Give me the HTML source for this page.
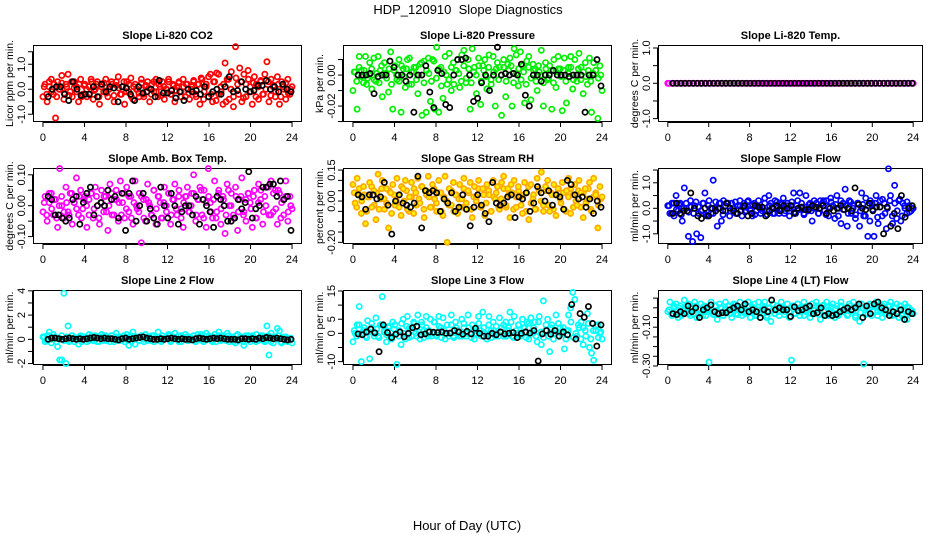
<!DOCTYPE html>
<html><head><meta charset="utf-8">
<style>
html,body{margin:0;padding:0;background:#fff;}
svg{display:block;font-family:"Liberation Sans",Arial,sans-serif;}
</style></head>
<body>
<svg id="chart" width="936" height="540" viewBox="0 0 936 540" xmlns="http://www.w3.org/2000/svg">
<text x="468" y="14" font-size="13" text-anchor="middle">HDP_120910&#160;&#160;Slope Diagnostics</text>
<text x="467" y="530" font-size="13" text-anchor="middle">Hour of Day (UTC)</text>
</svg>
<script>
const hourTicks=[0,4,8,12,16,20,24];

const co2Color=[-0.3,0.2,-0.5,0.1,0.4,-0.2,-1.15,0.3,0.0,0.55,
-0.4,0.2,0.6,-0.1,-0.3,0.3,0.1,-0.5,0.4,-0.2,
0.2,-0.3,0.1,0.4,-0.4,0.0,0.3,-0.6,0.2,-0.1,
0.4,-0.3,0.1,0.2,-0.5,0.3,0.5,-0.2,0.1,-0.6,
0.3,-0.1,0.45,-0.4,0.2,0.0,-0.3,0.4,-0.2,0.1,
0.3,-0.5,0.2,-0.1,0.4,-0.3,0.1,0.3,-0.4,0.0,
0.4,-0.2,0.2,-0.5,0.1,0.3,-0.1,0.4,-0.3,0.2,
-0.4,0.1,0.3,-0.2,0.2,-0.6,0.4,-0.1,0.2,-0.3,
0.6,-0.5,0.3,0.65,-0.2,0.1,-0.6,1.05,0.4,-0.4,
0.7,-0.7,1.7,0.2,0.85,-0.5,0.6,-0.3,0.75,0.1,
-0.6,0.5,0.2,-0.4,0.3,-0.2,0.6,1.1,-0.5,0.4,
0.1,-0.3,0.5,-0.6,0.3,0.0,-0.4,0.4,-0.2,0.1];
const co2Core=[0.1,-0.2,0.3,-0.1,0.2,-0.3,0.0,0.25,-0.15,0.1,-0.25,0.3,0.05,-0.1,0.2,-0.3,0.15,0.0,-0.2,0.3,
-0.05,0.2,-0.3,0.1,0.25,-0.15,0.0,0.3,-0.25,0.15,0.05,-0.2,0.3,-0.1,0.2,-0.3,0.1,0.0,-0.15,0.25,
-0.3,0.15,0.05,-0.2,0.3,-0.1,0.2,-0.25,0.1,0.0,0.3,-0.2,0.15,-0.05,0.25,-0.3,0.1,0.2,-0.15,0.0,
0.35,-0.3,0.2,0.45,-0.4,0.1,0.5,-0.2,0.3,-0.45,0.6,-0.1,0.2,-0.5,0.4,0.0,-0.3,0.45,-0.2,0.3,
-0.35,0.2,0.4,-0.1,0.25,-0.3,0.1,0.35,-0.2,0.0,0.3,-0.25,0.15,-0.1,0.2,-0.3,0.1,0.25,-0.15,0.0];
const co2Black=[-0.3,0.0,0.1,0.1,-0.2,-0.45,0.3,0.0,-0.25,-0.2,-0.2,0.1,-0.3,0.2,-0.1,0.1,0.05,-0.5,0.1,0.05,-0.2,-0.45,0.1,-0.15,-0.1,0.0,-0.3,0.35,-0.15,-0.15,-0.05,-0.35,-0.1,-0.45,0.0,-0.1,-0.05,-0.2,0.1,-0.3,-0.1,0.0,-0.2,0.1,0.5,-0.1,-0.05,0.3,0.0,-0.1,-0.05,0.15,0.15,0.35,0.0,0.1,-0.1,0.2,0.0,-0.1];

const presColor=[-0.010,0.002,-0.022,0.012,0.003,-0.005,0.012,-0.002,0.008,-0.009,
0.011,-0.004,0.012,0.003,-0.014,0.008,0.001,-0.011,0.015,-0.022,
0.006,-0.003,0.010,-0.024,0.004,-0.008,0.010,0.011,-0.006,0.002,
0.005,-0.012,0.007,-0.026,0.009,-0.024,0.011,-0.017,0.010,-0.022,
0.018,-0.024,0.005,-0.015,0.012,-0.006,0.014,-0.010,0.008,0.003,
0.010,-0.008,0.013,0.016,-0.005,0.010,-0.022,0.017,0.005,-0.012,
0.011,-0.019,0.006,0.010,-0.009,0.013,-0.003,0.012,-0.020,0.008,
0.005,-0.026,0.010,-0.014,0.007,0.011,-0.020,0.017,0.013,-0.007,
0.015,0.006,-0.018,0.009,0.012,-0.016,0.007,0.004,-0.010,0.002,
0.016,-0.020,0.008,-0.003,0.006,-0.022,0.010,-0.008,0.012,0.004,
-0.023,0.011,-0.018,0.005,0.012,-0.009,0.010,-0.004,0.014,0.005,
-0.012,0.008,-0.006,0.011,-0.024,0.008,0.003,-0.028,0.006,-0.010];
const presCore=[0.002,-0.004,0.005,-0.001,0.003,-0.006,0.0,0.004,-0.003,0.001,-0.005,0.006,0.001,-0.002,0.004,-0.006,0.003,0.0,-0.004,0.006,
-0.001,0.004,-0.006,0.002,0.005,-0.003,0.0,0.008,-0.005,0.003,0.001,-0.004,0.009,-0.002,0.004,-0.007,0.002,0.0,-0.003,0.005,
-0.006,0.003,0.001,-0.004,0.006,-0.002,0.004,-0.005,0.002,0.0,0.006,-0.004,0.003,-0.001,0.005,-0.006,0.002,0.004,-0.003,0.0,
0.005,-0.004,0.003,0.006,-0.005,0.001,0.004,-0.003,0.002,-0.006,0.005,-0.002,0.003,-0.004,0.006,0.0,-0.005,0.004,-0.002,0.003,
-0.005,0.002,0.004,-0.001,0.003,-0.004,0.001,0.005,-0.003,0.0,0.004,-0.003,0.002,-0.001,0.003,-0.004,0.001,0.003,-0.002,0.0];
const presBlack=[0.0,0.0,0.0,0.001,-0.012,-0.001,0.0,0.0,0.009,0.005,0.0,0.0,-0.004,0.0,-0.024,0.0,0.0,0.006,-0.011,-0.021,0.003,0.001,-0.019,-0.021,0.0,0.010,0.010,0.011,0.0,-0.017,-0.015,-0.005,0.0,-0.010,0.0,0.018,0.0,0.001,0.0,0.001,0.0,0.007,-0.013,-0.020,0.0,0.0,-0.004,0.0,0.0,0.003,0.0,0.0,0.0,-0.001,0.0,0.0,0.0,-0.024,0.0,0.0,0.010,-0.007];

const tempColor=[0,0,0,0,0,0,0,0,0,0,0,0,0,0,0,0,0,0,0,0,0,0,0,0,0,0,0,0,0,0,0,0,0,0,0,0,0,0,0,0,0,0,0,0,0,0,0,0,0,0,0,0,0,0,0,0,0,0,0,0];
const tempCore=[0,0,0,0,0,0,0,0,0,0,0,0,0,0,0,0,0,0,0,0,0,0,0,0,0,0,0,0,0,0,0,0,0,0,0,0,0,0,0,0,0,0,0,0,0,0,0,0,0,0,0,0,0,0,0,0,0,0,0,0];
const tempBlack=[0,0,0,0,0,0,0,0,0,0,0,0,0,0,0,0,0,0,0,0,0,0,0,0,0,0,0,0,0,0,0,0,0,0,0,0,0,0,0,0,0,0,0,0,0,0,0,0,0,0,0,0,0,0,0,0,0,0,0,0];

const boxColor=[-0.02,0.03,-0.05,0.01,0.04,-0.03,0.02,-0.07,0.12,0.0,
-0.04,0.06,-0.02,0.04,-0.06,0.01,0.09,-0.03,0.05,-0.01,
0.03,-0.07,0.02,0.04,-0.04,0.06,0.0,-0.06,0.05,-0.02,
0.03,-0.08,0.07,-0.03,0.02,0.05,-0.05,0.08,0.01,-0.04,
0.06,-0.02,0.03,-0.06,0.08,-0.01,0.04,-0.12,0.02,-0.05,
0.07,0.0,-0.03,0.05,-0.06,0.03,0.01,-0.04,0.06,-0.02,
0.04,-0.06,0.02,0.07,-0.03,0.05,-0.01,-0.07,0.03,0.06,
-0.02,0.04,0.10,-0.05,0.02,0.06,-0.03,0.05,-0.07,0.12,
0.01,-0.04,0.08,-0.02,0.05,-0.06,0.03,-0.09,0.07,0.0,
0.04,-0.03,0.06,-0.08,0.02,0.09,-0.02,-0.05,0.04,0.01,
-0.07,0.05,-0.04,0.07,0.02,-0.06,0.03,0.06,-0.03,0.08,
-0.02,0.05,-0.06,0.04,0.01,-0.03,0.08,-0.05,0.03,-0.01];
const boxCore=[0.01,-0.03,0.04,-0.01,0.02,-0.04,0.0,0.03,-0.02,0.01,-0.03,0.04,0.01,-0.01,0.03,-0.04,0.02,0.0,-0.03,0.04,
-0.01,0.03,-0.04,0.01,0.03,-0.02,0.0,0.04,-0.03,0.02,0.01,-0.03,0.04,-0.01,0.03,-0.04,0.01,0.0,-0.02,0.03,
-0.04,0.02,0.01,-0.03,0.05,-0.01,0.03,-0.04,0.01,0.0,0.04,-0.03,0.02,-0.01,0.03,-0.04,0.01,0.03,-0.02,0.0,
0.04,-0.03,0.02,0.05,-0.04,0.01,0.03,-0.02,0.02,-0.04,0.04,-0.01,0.02,-0.03,0.05,0.0,-0.04,0.03,-0.02,0.03,
-0.03,0.02,0.04,-0.01,0.03,-0.04,0.01,0.05,-0.02,0.0,0.06,-0.03,0.04,-0.01,0.05,-0.04,0.02,0.03,-0.02,0.0];
const boxBlack=[0.03,0.02,-0.03,-0.03,-0.04,-0.05,-0.04,0.02,0.03,-0.06,0.01,0.04,0.06,-0.03,0.0,0.01,0.0,0.05,0.02,0.03,-0.04,0.04,-0.08,0.04,0.08,-0.05,0.0,0.04,-0.05,-0.01,-0.04,-0.06,0.06,0.0,-0.04,0.04,0.0,-0.06,-0.02,0.0,0.0,-0.03,0.03,-0.06,0.02,0.0,-0.02,-0.07,0.03,0.02,0.0,-0.05,-0.05,-0.04,0.02,-0.01,0.01,0.11,-0.04,-0.01,0.0,0.06,0.06,0.07,0.07,0.03,0.08,0.02,0.03,-0.08];

const rhColor=[0.08,-0.01,0.11,0.03,-0.06,0.07,-0.11,0.02,0.09,-0.03,
0.05,-0.09,0.13,0.01,0.10,-0.04,0.06,-0.13,0.04,0.08,
-0.02,0.11,0.03,-0.07,0.06,0.10,-0.04,0.02,0.09,-0.06,
0.04,0.11,-0.01,0.07,-0.08,0.05,0.12,-0.03,0.08,0.01,
-0.05,0.10,0.04,-0.07,0.12,-0.20,0.06,-0.02,0.09,0.03,
-0.06,0.08,0.01,0.11,-0.04,0.05,0.09,-0.08,0.07,0.02,
0.10,-0.03,0.06,-0.07,0.08,0.03,-0.05,0.10,0.01,0.07,
-0.04,0.09,0.12,-0.02,0.06,-0.08,0.04,0.10,-0.03,0.07,
0.02,-0.06,0.09,0.04,-0.09,0.08,0.01,-0.04,0.11,0.05,
0.14,-0.02,0.07,0.10,-0.05,0.03,0.08,-0.07,0.06,0.01,
0.09,-0.04,0.05,0.11,-0.06,0.03,0.08,-0.02,0.10,0.04,
-0.08,0.06,0.01,0.09,-0.05,0.11,0.03,-0.13,0.07,0.02];
const rhCore=[0.04,-0.03,0.06,0.0,0.03,-0.05,0.02,0.07,-0.02,0.04,-0.04,0.06,0.01,-0.01,0.05,-0.06,0.03,0.0,-0.03,0.07,
0.0,0.05,-0.05,0.02,0.06,-0.02,0.01,0.07,-0.04,0.03,0.02,-0.03,0.06,-0.01,0.04,-0.05,0.02,0.0,-0.02,0.05,
-0.05,0.03,0.01,-0.03,0.06,-0.01,0.04,-0.04,0.02,0.0,0.06,-0.03,0.03,-0.01,0.05,-0.05,0.02,0.04,-0.03,0.01,
0.06,-0.03,0.03,0.08,-0.04,0.02,0.05,-0.02,0.03,-0.05,0.07,-0.01,0.03,-0.04,0.06,0.0,-0.05,0.05,-0.02,0.04,
-0.04,0.03,0.06,-0.01,0.04,-0.05,0.02,0.06,-0.03,0.0,0.05,-0.03,0.04,-0.01,0.06,-0.04,0.02,0.04,-0.02,0.01];
const rhBlack=[0.03,0.02,-0.04,0.03,0.03,0.01,0.02,0.09,-0.02,-0.16,0.00,0.03,-0.01,-0.02,-0.03,-0.01,0.12,-0.13,0.05,0.04,0.05,0.04,-0.05,0.01,-0.01,0.04,-0.05,-0.03,0.03,-0.04,-0.12,-0.03,0.03,-0.02,-0.06,-0.10,0.09,-0.01,-0.02,-0.01,0.02,0.03,-0.08,0.02,0.01,0.04,-0.05,-0.01,0.07,0.04,0.00,0.05,-0.02,0.03,0.02,-0.04,0.10,0.08,0.03,0.01,0.02,-0.03,0.01,-0.06,0.00,-0.03];

const sampleColor=[0.1,-0.2,0.2,-0.3,0.5,-0.1,0.2,-0.5,0.8,0.0,
-1.1,0.3,-1.3,0.1,-1.0,-0.2,-1.15,0.2,0.6,-0.3,
0.3,-0.2,1.1,0.0,-0.7,0.2,-0.5,0.3,-0.1,0.2,
-0.3,0.2,0.0,-0.2,0.1,0.3,-0.3,0.2,-0.1,0.3,
0.1,-0.3,0.2,-0.1,0.3,-0.2,0.0,0.4,-0.1,0.5,
0.2,-0.2,0.3,0.0,-0.2,0.2,0.4,-0.1,0.2,-0.3,
0.1,0.6,-0.2,0.3,0.6,0.0,-0.2,0.5,-0.1,0.2,
-0.5,0.3,0.0,-0.2,0.3,0.2,-0.1,0.3,-0.3,0.4,
0.1,-0.4,0.5,0.0,-0.6,0.2,0.75,-0.7,0.3,-0.2,
0.1,-0.4,0.2,-0.7,0.6,-0.3,0.4,-1.1,-0.5,0.2,
-1.1,0.5,-0.6,0.3,-0.3,0.2,-0.8,1.55,0.5,-0.6,
0.9,-0.4,0.3,-0.5,0.2,0.0,-0.2,0.1,-0.1,0.0];
const sampleCore=[0.1,-0.2,0.2,-0.05,0.15,-0.25,0.0,0.2,-0.15,0.05,-0.2,0.25,0.05,-0.1,0.2,-0.25,0.1,0.0,-0.2,0.25,
0.0,0.2,-0.25,0.1,0.2,-0.1,0.0,0.25,-0.2,0.1,0.05,-0.15,0.25,-0.05,0.15,-0.25,0.1,0.0,-0.1,0.2,
-0.25,0.1,0.05,-0.2,0.25,-0.05,0.15,-0.2,0.1,0.0,0.25,-0.15,0.1,-0.05,0.2,-0.25,0.05,0.15,-0.1,0.0,
0.2,-0.2,0.15,0.3,-0.25,0.05,0.25,-0.1,0.15,-0.3,0.3,-0.05,0.1,-0.2,0.25,0.0,-0.25,0.2,-0.1,0.15,
-0.3,0.1,0.3,-0.05,0.2,-0.35,0.05,0.35,-0.2,0.0,0.3,-0.3,0.2,-0.1,0.35,-0.3,0.1,0.25,-0.15,0.0];
const sampleBlack=[-0.2,0.2,-0.2,-0.1,-0.1,0.6,0.0,-0.3,-0.4,0.0,-0.3,0.0,-0.1,0.0,-0.1,0.2,0.0,-0.1,-0.2,-0.1,0.1,-0.3,-0.2,0.1,0.05,0.05,-0.3,-0.1,0.0,0.1,-0.1,0.1,0.0,0.1,-0.2,0.0,0.05,-0.05,-0.05,0.1,0.05,0.0,0.1,-0.2,0.0,-0.1,0.0,0.1,-0.05,0.0,-0.1,0.8,0.15,0.0,-0.05,0.2,-0.1,0.05,0.05,-1.0,0.05,-0.7,-0.2,-0.8,0.5,-0.35,0.0,0.1];

const line2Color=[0.2,-0.2,0.3,0.6,-0.3,0.4,0.1,-0.6,-1.7,-1.7,
3.8,-2.0,1.1,-0.1,0.3,-0.2,0.1,-0.4,0.3,0.0,
0.2,-0.2,0.4,0.1,-0.1,0.3,-0.2,0.2,0.4,-0.1,
0.3,0.0,-0.2,0.3,0.1,0.5,-0.1,0.2,0.0,-0.2,
0.4,-0.5,0.3,0.6,-0.4,0.2,-0.1,0.3,0.0,0.4,
-0.1,0.2,0.3,-0.2,0.1,0.6,-0.1,0.3,0.0,0.2,
0.4,-0.2,0.1,0.5,0.0,-0.2,0.3,0.1,0.4,-0.1,
0.2,0.0,0.3,-0.2,0.4,0.1,-0.1,0.3,0.5,0.0,
0.2,-0.2,0.4,0.1,0.6,-0.1,0.3,0.0,0.5,-0.2,
0.2,0.1,-0.3,0.4,0.0,0.2,-0.5,0.3,0.1,-0.2,
0.3,0.0,0.4,-0.1,0.2,0.3,-0.2,1.1,-1.3,0.5,
-0.3,0.2,0.9,0.7,-0.3,0.2,0.1,-0.2,0.0,-0.3];
const line2Core=[0.2,-0.1,0.3,0.0,0.2,-0.2,0.1,0.3,-0.1,0.2,-0.2,0.3,0.1,0.0,0.2,-0.2,0.2,0.1,-0.1,0.3,
0.0,0.2,-0.2,0.1,0.3,-0.1,0.1,0.3,-0.2,0.2,0.1,-0.1,0.3,0.0,0.2,-0.2,0.1,0.1,-0.1,0.3,
-0.2,0.2,0.1,-0.1,0.3,0.0,0.2,-0.2,0.1,0.1,0.3,-0.1,0.2,0.0,0.3,-0.2,0.1,0.2,-0.1,0.1,
0.3,-0.1,0.2,0.4,-0.2,0.1,0.3,-0.1,0.2,-0.2,0.3,0.0,0.2,-0.1,0.3,0.1,-0.2,0.3,-0.1,0.2,
-0.2,0.1,0.3,0.0,0.2,-0.2,0.1,0.3,-0.1,0.1,0.3,-0.2,0.2,0.0,0.3,-0.2,0.1,0.2,-0.1,0.1];
const line2Black=[0.0,0.1,0.1,0.05,0.0,0.05,0.1,0.05,0.0,0.05,0.0,0.05,0.1,0.15,0.1,0.05,0.1,0.05,0.05,0.0,-0.05,0.05,0.1,0.0,0.05,0.1,0.15,0.2,0.1,0.05,0.0,0.0,0.05,0.0,0.05,0.1,0.05,0.0,0.05,0.0,0.0,-0.05,0.05,0.1,0.05,0.0,0.05,0.1,0.05,0.1,0.05,0.0,0.0,0.0,-0.05,0.05,0.05,0.0,0.05,0.0,0.1,0.05,0.15,0.1,0.05,0.1,0.05,0.0,-0.05,0.0];

const line3Color=[-3,0,3,9.5,-10,1,-1,4.5,-9,2,
0,5.5,-1,3,13,1,-3,2,-1,4,
3,-11,1,-4,5,-2,6,2,-1,4,
0,6.5,-2,3,1,6,-1,5,0,4,
-1,6,2,5.5,-2,3,0,6.5,-1,4,
1,-1,5,2,-1,6.5,0,3,-2,1,
6,1,7.5,0,-2,6,1,4,-1,0,
5.5,2,-1,4,1,7.5,-1,6,0,3,
-1,5,2,4,-2,5.5,0,4,-3,6,
-4,11.5,1,5,-6.5,3,0,6.5,-1,2,
0,-5.5,1,6.5,9,14.5,12,-1,2,4,
-4,1,7,-5,-7,-9.5,1,3,0,-2];
const line3Core=[1,-1,3,0,2,-1.5,0.5,3.5,-1,1.5,-1.5,3,0.5,-0.5,2.5,-2,1.5,0,-1,3.5,
0,2.5,-1.5,1,3.5,-1,0.5,4,-1.5,2,1,-1,4,-0.5,2.5,-1.5,1,0,-1,3,
-1.5,2,0.5,-1,3.5,0,2,-1.5,1,0,3.5,-1,2,-0.5,3,-1.5,1,2.5,-1,0.5,
3,-1,2,4,-1.5,1,3,-0.5,2,-1.5,3.5,0,2,-1,4,0.5,-1.5,3,-1,2,
-2,1,3.5,0,2,-2,1,4,-1.5,0,3,-2,2,-1,3.5,-2,1,2.5,-1.5,0.5];
const line3Black=[-0.2,-0.5,0.5,1.5,0.2,-6.5,3,0.3,-1.5,-0.3,0.5,-1.2,0,2,2.5,-0.5,-0.2,0.5,0.4,0.3,0.5,0,0.1,1,0.5,-0.3,0.7,-0.2,1.8,0,-1,-1,0,-0.5,0.5,-0.2,0,0.3,-1.5,0,0.5,0.1,1,-9.8,-0.2,1,-0.3,1,-1,0.5,-0.5,10.2,-2,7,5.7,9.5,3.5,-4.5,3];

const line4Color=[-0.02,0.03,-0.04,0.0,0.02,-0.05,0.01,-0.03,0.04,-0.02,
0.02,-0.04,0.0,0.03,-0.05,-0.01,0.02,-0.04,0.01,-0.02,
-0.28,0.03,-0.03,0.01,-0.06,0.02,0.0,-0.04,0.03,-0.02,
0.01,-0.05,0.02,-0.03,0.0,0.03,-0.04,0.01,-0.02,0.03,
-0.05,0.0,0.02,-0.04,0.03,-0.02,0.01,0.03,-0.05,0.0,
-0.07,0.02,-0.03,0.01,-0.04,0.03,0.0,-0.02,0.02,-0.05,
-0.27,0.01,-0.03,0.02,-0.04,0.0,0.03,-0.02,0.01,-0.05,
0.02,-0.03,0.03,0.0,-0.06,0.01,-0.02,0.03,-0.04,0.0,
0.02,-0.05,0.01,-0.03,0.03,-0.02,0.0,-0.04,0.02,-0.01,
0.03,-0.05,0.01,-0.07,0.02,-0.29,0.0,-0.03,0.02,-0.04,
0.01,0.03,-0.02,0.0,-0.05,0.02,-0.03,0.01,0.03,-0.04,
0.0,0.02,-0.05,0.01,-0.03,0.02,-0.06,0.0,-0.02,-0.03];
const line4Core=[-0.01,-0.03,0.01,-0.02,0.0,-0.04,-0.015,0.01,-0.03,-0.005,-0.035,0.01,-0.01,-0.025,0.005,-0.04,-0.01,-0.02,-0.035,0.01,
-0.02,0.0,-0.04,-0.01,0.01,-0.03,-0.015,0.015,-0.035,0.0,-0.01,-0.03,0.01,-0.02,0.005,-0.04,-0.01,-0.02,-0.03,0.005,
-0.04,0.0,-0.015,-0.03,0.01,-0.02,0.005,-0.035,-0.01,-0.02,0.01,-0.03,0.0,-0.02,0.005,-0.04,-0.01,0.005,-0.03,-0.015,
0.01,-0.035,0.0,0.015,-0.04,-0.01,0.005,-0.03,-0.005,-0.04,0.01,-0.02,0.0,-0.035,0.01,-0.015,-0.04,0.005,-0.025,0.0,
-0.035,-0.005,0.01,-0.02,0.005,-0.04,-0.01,0.01,-0.03,-0.015,0.01,-0.035,0.0,-0.02,0.01,-0.04,-0.01,0.005,-0.03,-0.015];
const line4Black=[-0.03,-0.035,-0.02,-0.03,0.01,-0.02,0.0,-0.05,-0.01,0.0,0.015,-0.02,-0.03,-0.025,-0.025,-0.01,0.0,0.01,-0.01,0.02,-0.02,-0.01,-0.02,-0.05,-0.01,-0.02,0.04,-0.01,0.0,-0.01,-0.01,-0.045,0.005,-0.015,-0.01,0.0,0.01,-0.03,-0.025,0.0,-0.04,-0.03,-0.04,-0.035,-0.02,-0.01,0.0,-0.01,0.0,0.02,-0.05,0.01,-0.03,0.02,0.03,0.0,-0.01,-0.04,-0.02,-0.03,-0.01,-0.06,-0.02,-0.03];

const titles=["Slope Li-820 CO2","Slope Li-820 Pressure","Slope Li-820 Temp.","Slope Amb. Box Temp.","Slope Gas Stream RH","Slope Sample Flow","Slope Line 2 Flow","Slope Line 3 Flow","Slope Line 4 (LT) Flow"];
const yTitles=["Licor ppm per min.","kPa per min.","degrees C per min.","degrees C per min.","percent per min.","ml/min per min.","ml/min per min.","ml/min per min.","ml/min per min."];
const yTicks=[[-1,-0.5,0,0.5,1,1.5],[-0.03,-0.02,-0.01,0,0.01],[-1,-0.5,0,0.5,1],[-0.1,-0.05,0,0.05,0.1],[-0.2,-0.15,-0.1,-0.05,0,0.05,0.1,0.15],[-1,-0.5,0,0.5,1,1.5],[-2,-1,0,1,2,3,4],[-10,-5,0,5,10,15],[-0.3,-0.25,-0.2,-0.15,-0.1,-0.05,0,0.05]];
const yTickLabels=[{"-1":"-1.0","0":"0.0","1":"1.0"},{"-0.02":"-0.02","0":"0.00"},{"-1":"-1.0","0":"0.0","1":"1.0"},{"-0.1":"-0.10","0":"0.00","0.1":"0.10"},{"-0.2":"-0.20","0":"0.00","0.15":"0.15"},{"-1":"-1.0","0":"0.0","1":"1.0"},{"-2":"-2","0":"0","2":"2","4":"4"},{"-10":"-10","0":"0","5":"5","15":"15"},{"-0.3":"-0.30","-0.1":"-0.10"}];
const yLims=[[-1.31,1.77],[-0.0303,0.0194],[-1.096,1.085],[-0.124,0.122],[-0.208,0.16],[-1.40,1.58],[-2.12,4.07],[-11.2,15.35],[-0.295,0.092]];
const colorSeries=[co2Color,presColor,tempColor,boxColor,rhColor,sampleColor,line2Color,line3Color,line4Color];
const coreSeries=[co2Core,presCore,tempCore,boxCore,rhCore,sampleCore,line2Core,line3Core,line4Core];
const blackSeries=[co2Black,presBlack,tempBlack,boxBlack,rhBlack,sampleBlack,line2Black,line3Black,line4Black];
const seriesColors=["#ff0000","#00ee00","#ff00ff","#ff00ff","#ffaa00","#0000ff","#00ffff","#00ffff","#00ffff"];
const panelNames=["co2","pressure","li820-temp","box-temp","gas-rh","sample-flow","line2-flow","line3-flow","line4-flow"];

const NS="http://www.w3.org/2000/svg";
const svg=document.getElementById("chart");
const colX=[[33,302],[343,612],[658,923]];
const rowY=[[45,122],[168,244],[290,365]];
function mk(tag,attrs,parent){const e=document.createElementNS(NS,tag);for(const k in attrs)e.setAttribute(k,attrs[k]);parent.appendChild(e);return e;}

for(let p=0;p<9;p++){
  const [x0,x1]=colX[p%3];const [y0,y1]=rowY[Math.floor(p/3)];
  const [lo,hi]=yLims[p];
  const xs=v=>x0+(v+0.96)/25.92*(x1-x0);
  const ys=v=>y1-(v-lo)/(hi-lo)*(y1-y0);
  const g=mk("g",{},svg);
  
  
  const t=mk("text",{x:(x0+x1)/2,y:y0-6,"font-size":11,"font-weight":"bold","text-anchor":"middle"},g);
  t.textContent=titles[p];
  
  
  const yt=mk("text",{transform:`translate(${x0-20},${(y0+y1)/2}) rotate(-90)`,"font-size":10.5,"text-anchor":"middle"},g);
  yt.textContent=yTitles[p];
  
  
  const xa=mk("g",{stroke:"#000","stroke-width":1},g);
  
  
  mk("line",{x1:xs(0),x2:xs(24),y1:y1+0.5,y2:y1+0.5},xa);
  hourTicks.forEach(h=>{
    mk("line",{x1:xs(h),x2:xs(h),y1:y1,y2:y1+5},xa);
    const tl=mk("text",{x:xs(h),y:y1+19,"font-size":11,"text-anchor":"middle",stroke:"none"},g);
    tl.textContent=String(h);
    
    
  });
  const ya=mk("g",{stroke:"#000","stroke-width":1},g);
  
  
  const tk=yTicks[p];
  mk("line",{x1:x0-0.5,x2:x0-0.5,y1:ys(tk[0]),y2:ys(tk[tk.length-1])},ya);
  tk.forEach(v=>{
    mk("line",{x1:x0-5,x2:x0,y1:ys(v),y2:ys(v)},ya);
    const lab=yTickLabels[p][String(v)];
    if(lab!==undefined){
      const tl=mk("text",{transform:`translate(${x0-8},${ys(v)}) rotate(-90)`,"font-size":11,"text-anchor":"middle",stroke:"none"},g);
      tl.textContent=lab;
      
      
    }
  });
  const bx=mk("rect",{x:x0+0.5,y:y0+0.5,width:x1-x0-1,height:y1-y0-1,fill:"none",stroke:"#000","stroke-width":1},g);
  
  
  const cg=mk("g",{fill:p===4?"#ffee00":"none",stroke:seriesColors[p],"stroke-width":1.7},g);
  
  
  const cr=coreSeries[p];
  cr.forEach((v,i)=>{
    const h=0.12+i*23.76/(cr.length-1);
    const c=mk("circle",{cx:xs(h),cy:ys(v),r:2.6},cg);
    
    
  });
  const cs=colorSeries[p];
  cs.forEach((v,i)=>{
    const h=i*24/(cs.length-1);
    const c=mk("circle",{cx:xs(h),cy:ys(v),r:2.6},cg);
    
    
  });
  const bs=blackSeries[p];
  const bg=mk("g",{fill:"none",stroke:"#000","stroke-width":1.7},g);
  
  
  bs.forEach((v,i)=>{
    const h=0.5+i*23.4/(bs.length-1);
    const c=mk("circle",{cx:xs(h),cy:ys(v),r:2.6},bg);
    
    
  });
}
</script>
</body></html>
